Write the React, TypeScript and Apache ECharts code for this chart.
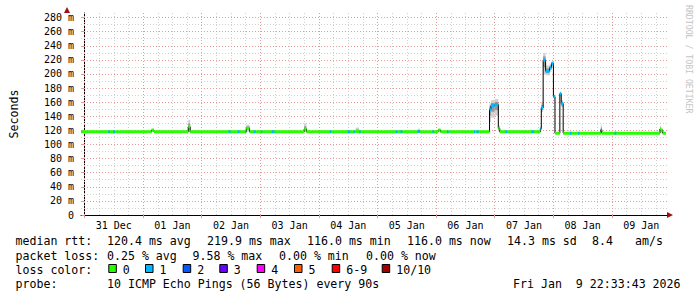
import { useEffect, useRef } from 'react';
import * as echarts from 'echarts';

// x values are hours relative to 31 Dec 00:00
const X_START = -1.438; // 30 Dec 22:33:43
const X_END = 238.562; // 09 Jan 22:33:43
const Y_MAX = 286.5;

const dayLabels = ['31 Dec', '01 Jan', '02 Jan', '03 Jan', '04 Jan', '05 Jan', '06 Jan', '07 Jan', '08 Jan', '09 Jan'];
const dayLabelHours = [12, 36, 60, 84, 108, 132, 156, 180, 204, 228];
const midnightHours = [0, 24, 48, 72, 96, 120, 144, 168, 192, 216];
const yTickValues = [0, 20, 40, 60, 80, 100, 120, 140, 160, 180, 200, 220, 240, 260, 280];

// [start h, end h, median ms]
const baseline: number[][] = [
  [-1.44, 27.48, 118], [28.44, 42.48, 118], [43.28, 66.24, 118], [67.6, 89.96, 118],
  [90.88, 111.08, 118], [112.44, 136.44, 118], [137.36, 144.84, 118], [145.76, 165.88, 118],
  [170.08, 186.68, 118], [192.68, 194.68, 116], [196.04, 211.48, 116], [211.88, 235.68, 116],
  [236.8, 238.16, 116],
];

// [start h, end h, median ms, loss level, smoke low ms, smoke high ms]
const spikes: number[][] = [
  [27.48, 28.44, 120.5, 0, 118, 122],
  [42.48, 43.28, 125, 0, 118, 135],
  [66.24, 67.6, 123, 0, 118, 128],
  [89.96, 90.88, 122, 0, 118, 130],
  [111.08, 112.44, 118.5, 0, 117, 124],
  [136.44, 137.36, 118.5, 1, 117, 122.5],
  [144.84, 145.76, 120.5, 0, 118, 122],
  [165.88, 166.44, 150, 1, 132, 158],
  [166.44, 168.04, 155, 1, 138, 163],
  [168.04, 169.48, 156.5, 1, 141, 164.5],
  [169.48, 170.08, 123, 0, 118, 127],
  [186.68, 187.08, 122.5, 1, 118, 126],
  [187.08, 187.84, 152, 1, 146, 160],
  [187.84, 188.84, 219.9, 1, 199, 230],
  [188.84, 190.44, 204, 1, 198, 212],
  [190.44, 191.24, 209, 1, 203, 214],
  [191.24, 192.04, 215, 1, 210, 218],
  [192.04, 192.68, 168, 1, 165, 171],
  [194.68, 195.24, 172, 1, 169, 175],
  [195.24, 196.04, 158, 1, 153, 163],
  [211.48, 211.88, 121, 1, 116, 128],
  [235.68, 236.08, 122, 0, 116, 126.5],
  [236.08, 236.8, 120, 0, 116, 124],
];

// [start h, end h, median ms, loss level]
const specks: number[][] = [
  [9.76, 10.44, 118, 1], [11.76, 12.44, 118, 1], [58.96, 59.76, 118, 1], [62.84, 63.48, 118, 1],
  [65.76, 66.24, 118, 1], [69.36, 70.04, 118, 1], [72.44, 72.84, 118, 1], [76.68, 77.76, 118, 1],
  [100.44, 101.08, 118, 1], [107.76, 108.84, 118, 1], [110.16, 110.68, 118, 1], [112.44, 113.08, 118, 1],
  [127.48, 128.16, 118, 1], [129.36, 130.16, 118, 1], [142.44, 143.08, 118, 1], [148.44, 149.08, 118, 1],
  [159.48, 160.04, 118, 1], [160.56, 161.48, 118, 1], [172.44, 173.08, 118, 1], [183.08, 184.04, 118, 1],
  [198.84, 199.48, 116, 1], [202.16, 202.68, 116, 1], [217.08, 217.76, 116, 1],
];

const lossLabels = ['0', '1', '2', '3', '4', '5', '6-9', '10/10'];
const lossColors = ['#26ff00', '#00b8ff', '#0059ff', '#6a00ff', '#ff00ff', '#ff5e00', '#ff0000', '#a10000'];

const rttStats = ['120.4 ms avg', '219.9 ms max', '116.0 ms min', '116.0 ms now', '14.3 ms sd', '8.4', 'am/s'];
const lossStats = ['0.25 % avg', '9.58 % max', '0.00 % min', '0.00 % now'];
const probeText = '10 ICMP Echo Pings (56 Bytes) every 90s';
const dateText = 'Fri Jan\u00a0 9 22:33:43 2026';

const MONO = "'DejaVu Sans Mono', monospace";
const LEG_FONT = `11.6px ${MONO}`;
const MAJOR = '#e09a9a';
const MINOR = '#d0d0d0';

const rttX = [107, 207, 307, 407, 507, 592, 635];
const lossX = [107, 192.5, 279, 366];
const boxX = [108.3, 145, 182.7, 219.3, 256.7, 294, 331.7, 381.7];
const lineY = [241, 255.5, 269.5, 283.5];

function txt(text: string, x: number, y: number, font = LEG_FONT, fill = '#000') {
  return {
    type: 'text', x, y, silent: true,
    style: { text, font, fill, align: 'left', verticalAlign: 'middle', textAlign: 'left', textVerticalAlign: 'middle' },
  };
}

export default function App() {
  const ref = useRef<HTMLDivElement>(null);
  useEffect(() => {
    if (!ref.current) return;
    const chart = echarts.init(ref.current, undefined, { renderer: 'svg' });

    const medianSegs = [...baseline.map((b) => [b[0], b[1], b[2]]), ...spikes.map((s) => [s[0], s[1], s[2]])]
      .sort((a, b) => a[0] - b[0]);
    const linePts: number[][] = [];
    medianSegs.forEach((s) => { linePts.push([s[0], s[2]]); linePts.push([s[1], s[2]]); });

    const bandData = [
      ...baseline.map((b) => [b[0], b[1], b[2], 0]),
      ...spikes.map((s) => [s[0], s[1], s[2], s[3]]),
      ...specks.map((s) => [s[0], s[1], s[2], s[3]]),
    ];

    const gridLines: any[] = [];
    for (let v = 10; v < Y_MAX; v += 20) gridLines.push({ yAxis: v, lineStyle: { color: MINOR } });
    for (let h = 6; h < X_END; h += 6) {
      if (h % 24 !== 0) gridLines.push({ xAxis: h, lineStyle: { color: MINOR } });
    }
    yTickValues.slice(1).forEach((v) => gridLines.push({ yAxis: v, lineStyle: { color: MAJOR } }));
    midnightHours.forEach((h) => gridLines.push({ xAxis: h, lineStyle: { color: MAJOR } }));

    const graphic: any[] = [
      // axis arrows
      { type: 'polygon', silent: true, shape: { points: [[667, 212], [667, 218], [673, 215]] }, style: { fill: '#a01010' } },
      { type: 'polygon', silent: true, shape: { points: [[64, 13], [70, 13], [67, 7]] }, style: { fill: '#a01010' } },
      {
        type: 'text', x: 688.5, y: 5, rotation: -Math.PI / 2, silent: true,
        style: { text: 'RRDTOOL / TOBI OETIKER', font: `8.2px ${MONO}`, fill: '#c4c4c4', align: 'left', verticalAlign: 'middle', textAlign: 'left', textVerticalAlign: 'middle' },
      },
      txt('median rtt:', 15.5, lineY[0]),
      txt('packet loss:', 15.5, lineY[1]),
      txt('loss color:', 15.5, lineY[2]),
      txt('probe:', 15.5, lineY[3]),
      txt(probeText, 107, lineY[3]),
      txt(dateText, 513, lineY[3]),
    ];
    rttStats.forEach((t, i) => graphic.push(txt(t, rttX[i], lineY[0])));
    lossStats.forEach((t, i) => graphic.push(txt(t, lossX[i], lineY[1])));
    lossLabels.forEach((t, i) => {
      graphic.push({
        type: 'rect', silent: true,
        shape: { x: boxX[i] + 0.5, y: 264.5, width: 7.5, height: 8 },
        style: { fill: lossColors[i], stroke: '#000', lineWidth: 1 },
      });
      graphic.push(txt(t, boxX[i] + 14.5, lineY[2]));
    });

    chart.setOption({
      animation: false,
      backgroundColor: '#ffffff',
      grid: { left: 67, top: 13, width: 600, height: 202, containLabel: false },
      xAxis: {
        type: 'value', min: X_START, max: X_END,
        splitLine: { show: false },
        axisLine: { show: true, onZero: false, lineStyle: { color: '#000', width: 1 } },
        axisTick: { show: true, customValues: midnightHours, length: 3, lineStyle: { color: MAJOR } },
        axisLabel: {
          show: true, customValues: dayLabelHours, margin: 5,
          formatter: (v: number) => dayLabels[dayLabelHours.indexOf(Math.round(v))] ?? '',
          fontFamily: MONO, fontSize: 10, color: '#000',
        },
      },
      yAxis: {
        type: 'value', min: 0, max: Y_MAX,
        name: 'Seconds', nameLocation: 'middle', nameGap: 61,
        nameTextStyle: { fontFamily: MONO, fontSize: 11.6, color: '#000' },
        splitLine: { show: false },
        axisLine: { show: true, lineStyle: { color: '#000', width: 1 } },
        axisTick: { show: true, customValues: yTickValues, length: 3, lineStyle: { color: MAJOR } },
        axisLabel: {
          show: true, customValues: yTickValues, margin: 7,
          formatter: (v: number) => (v === 0 ? '0' : `${v} m`),
          fontFamily: MONO, fontSize: 10, color: '#000',
        },
      },
      graphic,
      series: [
        {
          type: 'line', data: [], z: 1, silent: true,
          markLine: {
            silent: true, symbol: ['none', 'none'], label: { show: false }, z: 1, animation: false,
            lineStyle: { type: [1, 2], width: 1 },
            data: gridLines,
          },
        },
        {
          type: 'custom', z: 2, silent: true, clip: true,
          encode: { x: [0, 1], y: [2, 4, 5] },
          data: spikes,
          renderItem: (_p: any, api: any) => {
            const t0 = api.value(0), t1 = api.value(1), m = api.value(2), lo = api.value(4), hi = api.value(5);
            const a = api.coord([t0, hi]);
            const b = api.coord([t1, lo]);
            const ia = api.coord([t0, m + (hi - m) * 0.5]);
            const ib = api.coord([t1, m - (m - lo) * 0.5]);
            return {
              type: 'group',
              children: [
                { type: 'rect', shape: { x: a[0], y: a[1], width: b[0] - a[0], height: b[1] - a[1] }, style: { fill: '#d2d2d2' } },
                { type: 'rect', shape: { x: ia[0], y: ia[1], width: ib[0] - ia[0], height: ib[1] - ia[1] }, style: { fill: '#9a9a9a' } },
              ],
            };
          },
        },
        {
          type: 'line', z: 3, silent: true, data: linePts, symbol: 'none',
          lineStyle: { color: '#000', width: 1 },
        },
        {
          type: 'custom', z: 4, silent: true, clip: true,
          encode: { x: [0, 1], y: 2 },
          data: bandData,
          renderItem: (_p: any, api: any) => {
            const a = api.coord([api.value(0), api.value(2)]);
            const b = api.coord([api.value(1), api.value(2)]);
            return {
              type: 'rect',
              shape: { x: a[0], y: a[1] - 1.5, width: b[0] - a[0], height: 3 },
              style: { fill: lossColors[api.value(3)] },
            };
          },
        },
      ],
    });
    return () => chart.dispose();
  }, []);
  return <div ref={ref} style={{ position: 'fixed', left: 0, top: 0, width: 697, height: 297 }} />;
}
